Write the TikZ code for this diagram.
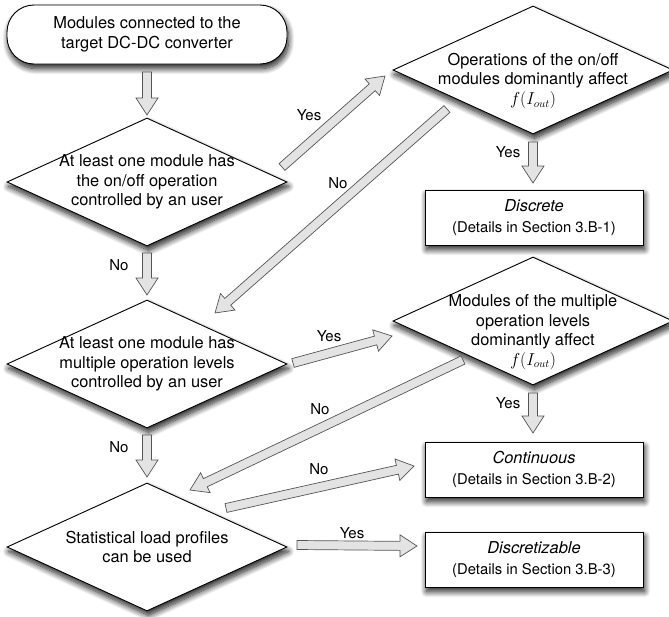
\documentclass[tikz,border=0pt]{standalone}
\usepackage{fontspec}
\setmainfont{TeX Gyre Heros}
\usetikzlibrary{calc,shapes.geometric,shadows.blur}

\definecolor{arrowfill}{HTML}{E3E3E3}
\definecolor{arrowline}{HTML}{555555}

% Block arrow between two named coordinates
\newcommand{\blockarrow}[2]{%
  \coordinate (bahead) at ($(#2)!17pt!(#1)$);
  \draw[blockarrow] ($(#1)!4.5pt!90:(#2)$) -- ($(bahead)!4.5pt!90:(#2)$)
    -- ($(bahead)!11pt!90:(#2)$) -- (#2) -- ($(bahead)!11pt!-90:(#2)$)
    -- ($(bahead)!4.5pt!-90:(#2)$) -- ($(#1)!4.5pt!-90:(#2)$) -- cycle;
}

\tikzset{
  flowshadow/.style={blur shadow={shadow xshift=1.5pt, shadow yshift=-4.5pt,
    shadow blur radius=6pt, shadow blur steps=12, shadow opacity=90}},
  decision/.style={diamond, draw, fill=white, line width=0.9pt,
    minimum width=280pt, minimum height=128pt, inner sep=0pt, flowshadow},
  dtext/.style={align=center, inner sep=0pt, font=\fontsize{16.4}{19.5}\selectfont},
  startbox/.style={rectangle, rounded corners=27pt, draw, fill=white, line width=0.9pt,
    minimum width=280pt, minimum height=59pt, align=center,
    font=\fontsize{16.4}{20}\selectfont, flowshadow},
  result/.style={rectangle, draw, fill=white, line width=0.9pt,
    minimum width=218pt, minimum height=55pt, align=center,
    font=\fontsize{14.8}{21.5}\selectfont, flowshadow},
  lbl/.style={inner sep=0pt, font=\fontsize{15}{18}\selectfont},
  blockarrow/.style={draw=arrowline, fill=arrowfill, line width=0.7pt, line join=miter}
}

\begin{document}
\begin{tikzpicture}[x=1pt, y=-1pt]
\useasboundingbox (0,0) rectangle (669,616);
% Left column
\node[startbox] (start) at (147,34.5) {Modules connected to the\\target DC-DC converter};
\node[decision] (onoff) at (147,182) {};
\node[dtext] (onofftxt) at (147,182) {At least one module has\\the on/off operation\\controlled by an user};
\node[decision] (multi) at (147,364) {};
\node[dtext] (multitxt) at (147,364) {At least one module has\\multiple operation levels\\controlled by an user};
\node[decision] (stat) at (147,547) {};
\node[dtext] (stattxt) at (147,547) {Statistical load profiles\\can be used};
% Right column
\node[decision] (onoffdom) at (533,70) {};
\node[dtext] (onoffdomtxt) at (533,81) {Operations of the on/off\\modules dominantly affect\\{\fontsize{16}{18}\selectfont$f(I_{out})$}};
\node[decision] (multidom) at (533,321) {};
\node[dtext] (multidomtxt) at (533,332) {Modules of the multiple\\operation levels\\dominantly affect\\{\fontsize{16}{18}\selectfont$f(I_{out})$}};
\node[result] (discrete) at (534,217.5) {{\fontsize{16.4}{20}\selectfont\itshape Discrete}\\(Details in Section 3.B-1)};
\node[result] (continuous) at (534,469.5) {{\fontsize{16.4}{20}\selectfont\itshape Continuous}\\(Details in Section 3.B-2)};
\node[result] (discretizable) at (534,559.5) {{\fontsize{16.4}{20}\selectfont\itshape Discretizable}\\(Details in Section 3.B-3)};

% Arrow ends
\coordinate (a1) at (147,72);   \coordinate (b1) at (147,115);
\coordinate (a2) at (282,167);  \coordinate (b2) at (385,76);
\coordinate (a3) at (447,109);  \coordinate (b3) at (215,313);
\coordinate (a4) at (533,142);  \coordinate (b4) at (533,183);
\coordinate (a5) at (147,253);  \coordinate (b5) at (147,295);
\coordinate (a6) at (293,363);  \coordinate (b6) at (392,336);
\coordinate (a7) at (463,360);  \coordinate (b7) at (190,490);
\coordinate (a8) at (533,393);  \coordinate (b8) at (533,433);
\coordinate (a9) at (147,435);  \coordinate (b9) at (147,477);
\coordinate (a10) at (226,508); \coordinate (b10) at (414,466);
\coordinate (a11) at (297,545); \coordinate (b11) at (417,546);

% Connections
\blockarrow{a1}{b1}
\blockarrow{a2}{b2}
\blockarrow{a3}{b3}
\blockarrow{a4}{b4}
\blockarrow{a5}{b5}
\blockarrow{a6}{b6}
\blockarrow{a7}{b7}
\blockarrow{a8}{b8}
\blockarrow{a9}{b9}
\blockarrow{a10}{b10}
\blockarrow{a11}{b11}

% Labels
\node[lbl] (yes1) at (309,115) {Yes};
\node[lbl] (no1) at (338,183) {No};
\node[lbl] (yes2) at (508,152) {Yes};
\node[lbl] (no2) at (119,265) {No};
\node[lbl] (yes3) at (329,336) {Yes};
\node[lbl] (no3) at (320,409) {No};
\node[lbl] (yes4) at (508,403) {Yes};
\node[lbl] (no4) at (119,447) {No};
\node[lbl] (no5) at (319,469) {No};
\node[lbl] (yes5) at (352,533) {Yes};
\end{tikzpicture}
\end{document}
